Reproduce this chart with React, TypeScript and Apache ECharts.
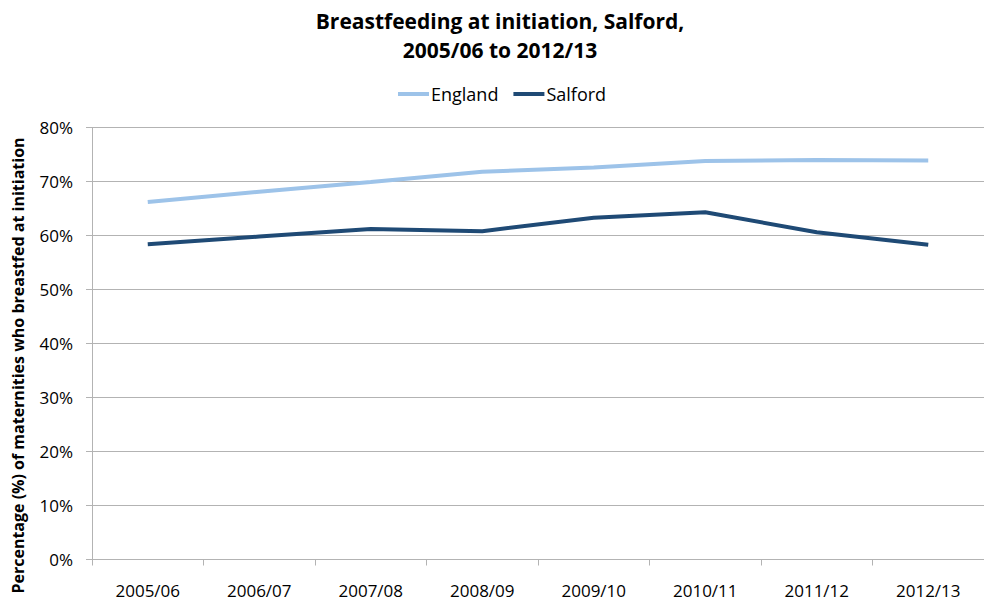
import React, { useEffect, useRef } from "react";
import * as echarts from "echarts";

const categories = ["2005/06", "2006/07", "2007/08", "2008/09", "2009/10", "2010/11", "2011/12", "2012/13"];
const england = [66.2, 68.1, 69.9, 71.8, 72.6, 73.8, 74.0, 73.9];
const salford = [58.4, 59.8, 61.2, 60.8, 63.3, 64.3, 60.6, 58.3];

const FONT = "'Open Sans', 'Liberation Sans', sans-serif";

export default function App() {
  const ref = useRef<HTMLDivElement>(null);
  useEffect(() => {
    const chart = echarts.init(ref.current!, null, { renderer: "svg" });
    chart.setOption({
      animation: false,
      backgroundColor: "#ffffff",
      title: {
        text: "Breastfeeding at initiation, Salford,\n2005/06 to 2012/13",
        left: 495,
        textAlign: "center",
        top: 1,
        textStyle: { fontFamily: FONT, fontWeight: "bold", fontSize: 21, color: "#000", lineHeight: 29 },
      },
      legend: {
        top: 80,
        left: 393,
        itemWidth: 31,
        itemHeight: 4,
        itemGap: 15,
        icon: "rect",
        textStyle: { fontFamily: FONT, fontSize: 18, color: "#000", padding: [0, 0, 0, -3] },
        data: ["England", "Salford"],
      },
      grid: { left: 92, top: 127.5, width: 900, height: 432 },
      xAxis: {
        type: "category",
        data: categories,
        boundaryGap: true,
        axisLine: { lineStyle: { color: "#B3B3B3", width: 1 } },
        axisTick: { show: true, length: 6, lineStyle: { color: "#B3B3B3" } },
        axisLabel: { fontFamily: FONT, fontSize: 17, color: "#000", margin: 22 },
      },
      yAxis: {
        type: "value",
        min: 0,
        max: 80,
        interval: 10,
        name: "Percentage (%) of maternities who breastfed at initiation",
        nameLocation: "middle",
        nameGap: 66,
        nameTextStyle: { fontFamily: FONT, fontWeight: "bold", fontSize: 16, color: "#000", padding: [0, 44, 0, 0] },
        axisLine: { show: true, lineStyle: { color: "#B3B3B3", width: 1 } },
        axisTick: { show: true, length: 6, lineStyle: { color: "#B3B3B3" } },
        axisLabel: { fontFamily: FONT, fontSize: 17, color: "#000", margin: 19, formatter: "{value}%" },
        splitLine: { lineStyle: { color: "#B3B3B3", width: 1 } },
      },
      series: [
        {
          name: "England",
          type: "line",
          data: england,
          symbol: "none",
          lineStyle: { color: "#9DC3E9", width: 4 },
          itemStyle: { color: "#9DC3E9" },
        },
        {
          name: "Salford",
          type: "line",
          data: salford,
          symbol: "none",
          lineStyle: { color: "#1F4A75", width: 4 },
          itemStyle: { color: "#1F4A75" },
        },
      ],
    });
    return () => chart.dispose();
  }, []);
  return <div ref={ref} style={{ width: 984, height: 604, position: "absolute", left: 0, top: 0 }} />;
}
